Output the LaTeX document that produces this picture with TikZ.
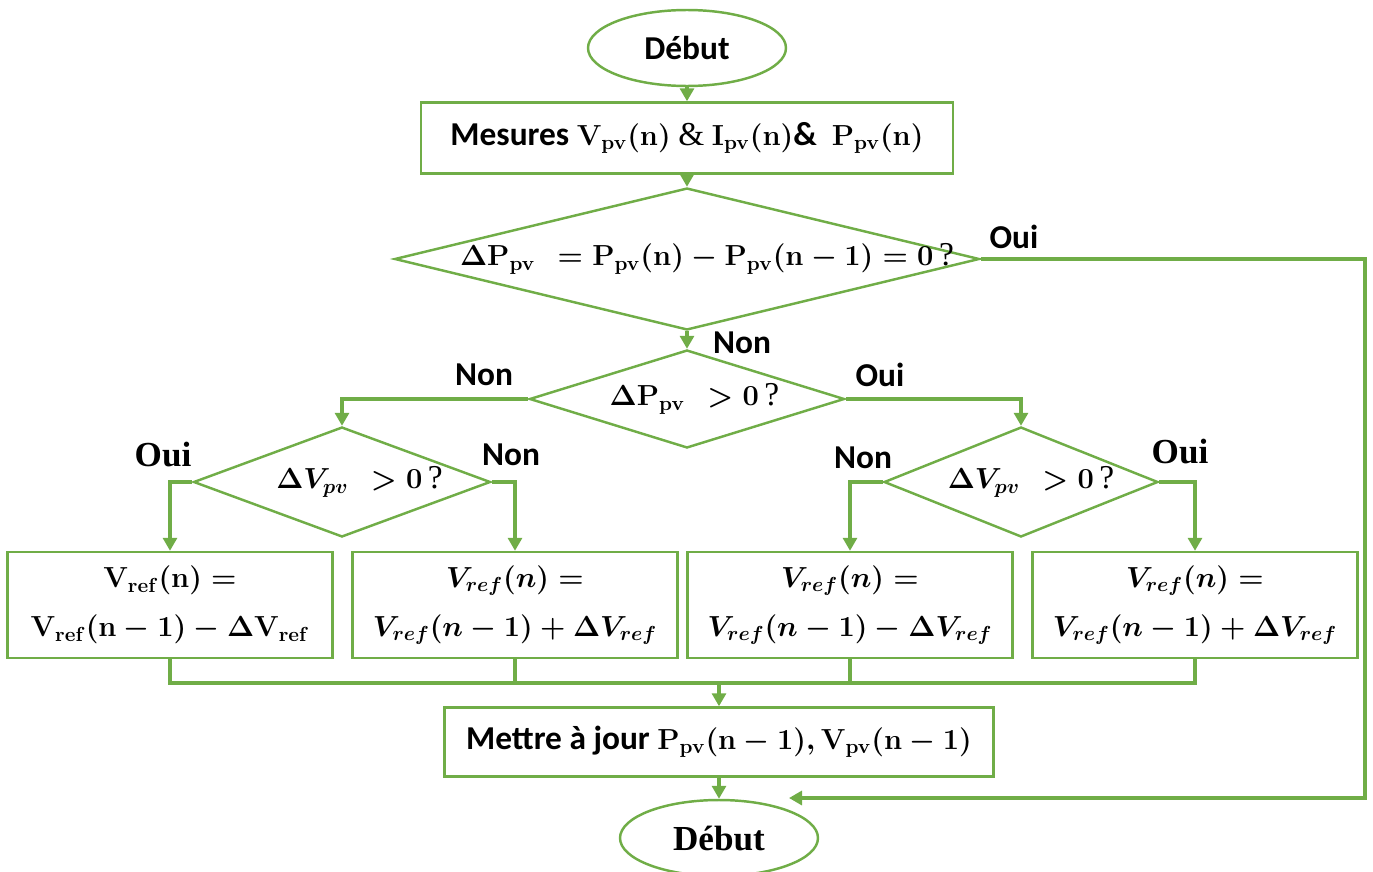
\RequirePackage{fix-cm}
\documentclass[tikz,border=0pt]{standalone}
\usepackage{amsmath}
\usepackage[no-math]{fontspec}
\setmainfont{Carlito}
\newfontfamily\serifface{Liberation Serif}
\usepackage{tikz}
\usetikzlibrary{arrows.meta, shapes.geometric}
\definecolor{flowgreen}{RGB}{112,173,71}
\newcommand{\mth}[1]{{\fontsize{16.5}{20}\selectfont\boldmath$#1$}}
\newcommand{\qmark}{{\serifface\mdseries\,?}}

\tikzset{
  box/.style={draw=flowgreen, line width=1.4pt, rectangle, align=center, inner sep=0pt},
  decision/.style={draw=flowgreen, line width=1.4pt, diamond, aspect=1, inner sep=0pt},
  terminal/.style={draw=flowgreen, line width=1.4pt, ellipse, inner sep=0pt,
    minimum width=3.96cm, minimum height=1.52cm},
  flow/.style={draw=flowgreen, line width=1.8pt, -{Triangle[length=0.26cm, width=0.28cm]}},
  link/.style={draw=flowgreen, line width=1.8pt},
  lbl/.style={font=\fontsize{19}{24}\selectfont\bfseries},
  lblserif/.style={font=\fontsize{20}{24}\selectfont\serifface\bfseries},
}

\begin{document}
\begin{tikzpicture}[x=0.02cm, y=-0.02cm]
  \useasboundingbox (0,0) rectangle (1373,872);
  % start and measures
  \node[terminal, lbl] (start) at (687,48) {Début};
  \node[box, lbl, minimum width=10.64cm, minimum height=1.42cm] (meas) at (687,138)
    {Mesures \mth{\mathbf{V_{pv}(n)}} {\serifface\mdseries\&} \mth{\mathbf{I_{pv}(n)}}\&\ \ \mth{\mathbf{P_{pv}(n)}}};
  % decisions
  \node[decision, lbl, minimum width=11.7cm, minimum height=2.84cm] (d1) at (687,259)
    {\makebox[0pt]{\hspace{0.8cm}\mth{\Delta\mathbf{P_{pv}}\ \ = \mathbf{P_{pv}(n)} - \mathbf{P_{pv}(n-1)} = \mathbf{0}}\qmark}};
  \node[decision, lbl, minimum width=6.3cm, minimum height=1.96cm] (d2) at (687,399)
    {\makebox[0pt]{\hspace{0.3cm}\mth{\Delta\mathbf{P_{pv}}\ \ > \mathbf{0}}\qmark}};
  \node[decision, lbl, minimum width=5.94cm, minimum height=2.2cm] (d3) at (342,482)
    {\makebox[0pt]{\hspace{0.7cm}\mth{\Delta V_{pv}\ \ > \mathbf{0}}\qmark}};
  \node[decision, lbl, minimum width=5.48cm, minimum height=2.2cm] (d4) at (1021,482)
    {\makebox[0pt]{\hspace{0.4cm}\mth{\Delta V_{pv}\ \ > \mathbf{0}}\qmark}};
  % update boxes
  \node[box, lbl, minimum width=6.5cm, minimum height=2.12cm] (bxA) at (170,605)
    {\mth{\mathbf{V_{ref}(n)} =}\\[4pt] \mth{\mathbf{V_{ref}(n-1)} - \Delta\mathbf{V_{ref}}}};
  \node[box, lbl, minimum width=6.5cm, minimum height=2.12cm] (bxB) at (515,605)
    {\mth{V_{ref}\mathbf{(}n\mathbf{)} =}\\[4pt] \mth{V_{ref}\mathbf{(}n - \mathbf{1)} + \Delta V_{ref}}};
  \node[box, lbl, minimum width=6.5cm, minimum height=2.12cm] (bxC) at (850,605)
    {\mth{V_{ref}\mathbf{(}n\mathbf{)} =}\\[4pt] \mth{V_{ref}\mathbf{(}n - \mathbf{1)} - \Delta V_{ref}}};
  \node[box, lbl, minimum width=6.5cm, minimum height=2.12cm] (bxD) at (1195,605)
    {\mth{V_{ref}\mathbf{(}n\mathbf{)} =}\\[4pt] \mth{V_{ref}\mathbf{(}n - \mathbf{1)} + \Delta V_{ref}}};
  % update and end
  \node[box, lbl, minimum width=10.98cm, minimum height=1.38cm] (upd) at (719,742)
    {Mettre à jour \mth{\mathbf{P_{pv}(n-1)}, \mathbf{V_{pv}(n-1)}}};
  \node[terminal, lblserif] (stop) at (719,838) {Début};
  % branch labels
  \node[lbl] (tOui1) at (1014,237) {Oui};
  \node[lbl] (tNon1) at (742,343) {Non};
  \node[lbl] (tNon2) at (484,375) {Non};
  \node[lbl] (tOui2) at (880,375) {Oui};
  \node[lblserif] (tOui3) at (163,455) {Oui};
  \node[lbl] (tNon3) at (511,455) {Non};
  \node[lbl] (tNon4) at (863,458) {Non};
  \node[lblserif] (tOui4) at (1180,452) {Oui};
  % helper points
  \coordinate (rturn) at (1365,798);
  \coordinate (backin) at (789,798);
  \coordinate (merge) at (719,683);
  % connectors
  \draw[flow] (start) -- (meas);
  \draw[flow] (meas) -- (d1);
  \draw[flow] (d1) -- (d2);
  \draw[flow] (d1.east) -| (rturn) -- (backin);
  \draw[flow] (d2.west) -| (d3.north);
  \draw[flow] (d2.east) -| (d4.north);
  \draw[flow] (d3.west) -| (bxA.north);
  \draw[flow] (d3.east) -| (bxB.north);
  \draw[flow] (d4.west) -| (bxC.north);
  \draw[flow] (d4.east) -| (bxD.north);
  \draw[link] (bxA.south) |- (merge) -| (bxD.south);
  \draw[link] (bxB.south) -- (bxB.south |- merge);
  \draw[link] (bxC.south) -- (bxC.south |- merge);
  \draw[flow] (merge) -- (upd);
  \draw[flow] (upd) -- (stop);
\end{tikzpicture}
\end{document}
